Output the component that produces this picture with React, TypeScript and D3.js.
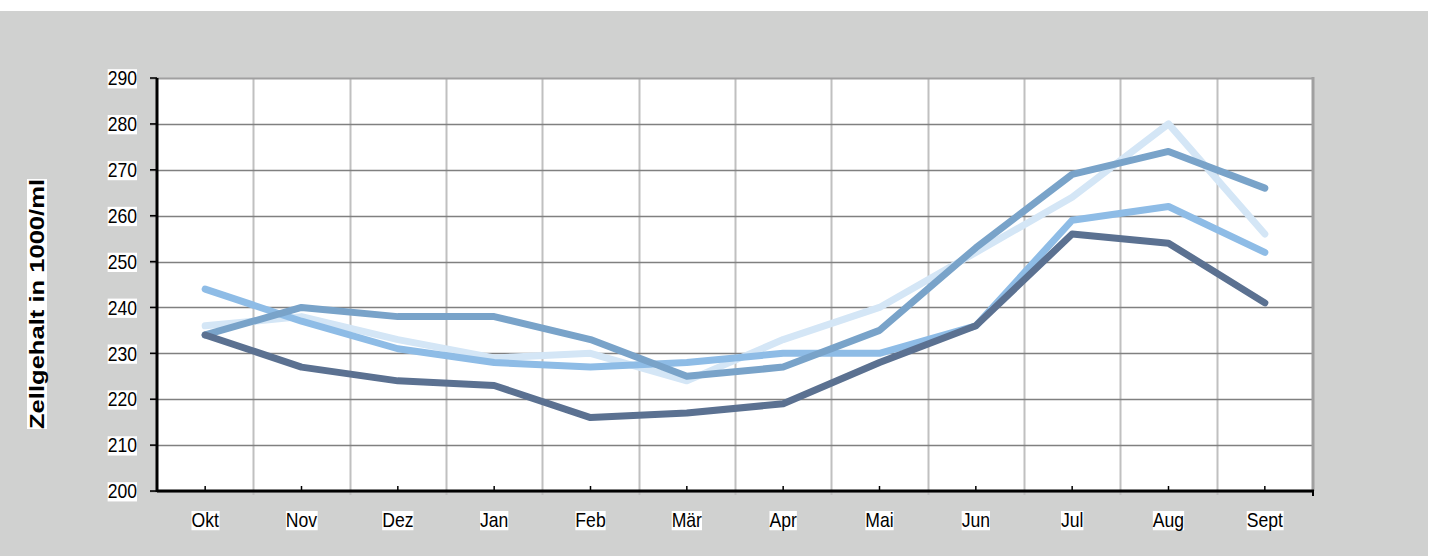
import React, { useRef, useEffect } from 'react';
import * as d3 from 'd3';

const months = ['Okt', 'Nov', 'Dez', 'Jan', 'Feb', 'Mär', 'Apr', 'Mai', 'Jun', 'Jul', 'Aug', 'Sept'];
const yTicks = [200, 210, 220, 230, 240, 250, 260, 270, 280, 290];

// drawn in this order: lightest at the back, darkest on top
const seriesLightest = [236, 238, 233, 229, 230, 224, 233, 240, 252, 264, 280, 256];
const seriesLight = [244, 237, 231, 228, 227, 228, 230, 230, 236, 259, 262, 252];
const seriesMedium = [234, 240, 238, 238, 233, 225, 227, 235, 253, 269, 274, 266];
const seriesDark = [234, 227, 224, 223, 216, 217, 219, 228, 236, 256, 254, 241];

const seriesColors = ['#d4e6f6', '#8ebce6', '#79a3c9', '#5b7191'];

export default function App() {
  const svgRef = useRef<SVGSVGElement>(null);

  useEffect(() => {
    if (!svgRef.current) return;
    const width = 1431;
    const height = 556;
    const left = 157;
    const right = 1313;
    const top = 78;
    const bottom = 491;

    const svg = d3.select(svgRef.current);
    svg.selectAll('*').remove();

    svg.append('rect').attr('x', 0).attr('y', 11).attr('width', 1428).attr('height', height - 11).attr('fill', '#d0d1d0');
    svg.append('rect').attr('x', left).attr('y', top).attr('width', right - left).attr('height', bottom - top).attr('fill', '#fff');

    const x = d3.scaleBand<string>().domain(months).range([left, right]);
    const y = d3.scaleLinear().domain([200, 290]).range([bottom, top]);

    const g = svg.append('g');

    // vertical grid at band edges
    months.slice(1).forEach((m) => {
      const xx = Math.round(x(m)!) + 0.5;
      g.append('line').attr('x1', xx).attr('x2', xx).attr('y1', top).attr('y2', bottom + 4)
        .attr('stroke', '#c0c0c0').attr('stroke-width', 2);
    });

    // horizontal grid
    yTicks.forEach((t) => {
      const yy = Math.round(y(t)) + 0.5;
      g.append('line').attr('x1', left - 7).attr('x2', right).attr('y1', yy).attr('y2', yy)
        .attr('stroke', t === 290 ? '#a0a0a0' : '#808080').attr('stroke-width', t === 290 ? 2 : 1.3);
    });

    // right frame
    g.append('line').attr('x1', right).attr('x2', right).attr('y1', top - 1).attr('y2', bottom)
      .attr('stroke', '#a0a0a0').attr('stroke-width', 3);

    // center ticks on bottom axis
    months.forEach((m) => {
      const xx = x(m)! + x.bandwidth() / 2;
      g.append('line').attr('x1', xx).attr('x2', xx).attr('y1', bottom - 5).attr('y2', bottom)
        .attr('stroke', '#000').attr('stroke-width', 1.5);
    });
    g.append('line').attr('x1', right).attr('x2', right).attr('y1', bottom).attr('y2', bottom + 5)
      .attr('stroke', '#000').attr('stroke-width', 2);

    // axes
    g.append('line').attr('x1', left).attr('x2', left).attr('y1', top).attr('y2', bottom + 1)
      .attr('stroke', '#000').attr('stroke-width', 3);
    g.append('line').attr('x1', left).attr('x2', right + 1).attr('y1', bottom).attr('y2', bottom)
      .attr('stroke', '#000').attr('stroke-width', 3);
    yTicks.forEach((t) => {
      g.append('line').attr('x1', left - 7).attr('x2', left).attr('y1', y(t)).attr('y2', y(t))
        .attr('stroke', '#000').attr('stroke-width', 1.5);
    });

    // lines
    const line = d3.line<number>()
      .x((_, i) => x(months[i])! + x.bandwidth() / 2)
      .y((d) => y(d));
    [seriesLightest, seriesLight, seriesMedium, seriesDark].forEach((s, i) => {
      g.append('path').datum(s).attr('d', line).attr('fill', 'none')
        .attr('stroke', seriesColors[i]).attr('stroke-width', 7)
        .attr('stroke-linejoin', 'round').attr('stroke-linecap', 'round');
    });

    // text with white boxes
    const addLabel = (sel: d3.Selection<SVGTextElement, unknown, null, undefined>) => {
      const node = sel.node()!;
      const bb = node.getBBox();
      const parent = d3.select(node.parentNode as SVGGElement);
      parent.insert('rect', () => node).attr('x', bb.x).attr('y', bb.y + 2)
        .attr('width', bb.width).attr('height', bb.height - 3).attr('fill', '#fff');
    };

    const labels = svg.append('g').attr('font-family', 'Liberation Sans, Arial, sans-serif');

    yTicks.forEach((t) => {
      const tg = labels.append('g').attr('transform', `translate(137,${y(t)}) scale(0.88,1)`);
      const txt = tg.append('text').attr('x', 0).attr('y', 0).attr('dy', '0.36em')
        .attr('text-anchor', 'end').attr('font-size', 20).attr('fill', '#000').text(String(t));
      addLabel(txt as any);
    });

    months.forEach((m) => {
      const tg = labels.append('g').attr('transform', `translate(${x(m)! + x.bandwidth() / 2},527) scale(0.88,1)`);
      const txt = tg.append('text').attr('x', 0).attr('y', 0)
        .attr('text-anchor', 'middle').attr('font-size', 20).attr('fill', '#000').text(m);
      addLabel(txt as any);
    });

    const tg = labels.append('g').attr('transform', 'translate(44,304) rotate(-90)');
    const title = tg.append('text').attr('x', 0).attr('y', 0).attr('text-anchor', 'middle')
      .attr('font-size', 21).attr('font-weight', 'bold').attr('fill', '#000')
      .attr('textLength', 250).attr('lengthAdjust', 'spacingAndGlyphs')
      .text('Zellgehalt in 1000/ml');
    addLabel(title as any);

    svg.attr('width', width).attr('height', height);
  }, []);

  return (
    <div style={{ position: 'absolute', left: 0, top: 0 }}>
      <svg ref={svgRef} width={1431} height={556} style={{ display: 'block' }} />
    </div>
  );
}
